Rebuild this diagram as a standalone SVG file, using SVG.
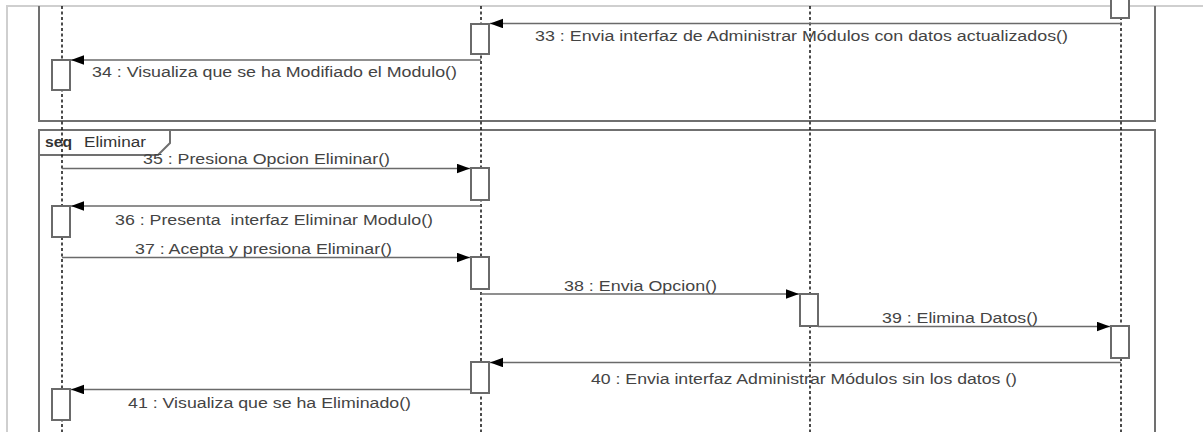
<svg xmlns="http://www.w3.org/2000/svg" width="1203" height="432" viewBox="0 0 1203 432">
<defs>
<style>
.page{stroke:#cfcfcf;stroke-width:2;fill:none}
.frag{stroke:#707070;stroke-width:2;fill:none}
.life{stroke:#111;stroke-width:1.5;stroke-dasharray:3 2.5;fill:none}
.act{stroke:#6a6a6a;stroke-width:2;fill:#fff}
.msg{stroke:#6a6a6a;stroke-width:1.6;fill:none;marker-end:url(#ah)}
.lbl{font-family:"Liberation Sans",Arial,sans-serif;font-size:14px;fill:#444}
.seq{font-family:"Liberation Sans",Arial,sans-serif;font-size:14px;fill:#333}
</style>
<marker id="ah" markerUnits="userSpaceOnUse" markerWidth="14" markerHeight="10" refX="13" refY="4.75" orient="auto">
<path d="M0,0 L13,4.75 L0,9.5 z" fill="#000"/>
</marker>
</defs>
<rect width="1203" height="432" fill="#fff"/>
<g id="page">
<path class="page" d="M7,432 V6 H1203"/>
</g>
<g id="frag-prev">
<path class="frag" d="M39,6 V121 H1155 V6"/>
</g>
<g id="frag-eliminar">
<path class="frag" d="M39,440 V130 H1155 V440"/>
<path class="frag" d="M39,155 H158 L170,143 V130"/>
<text class="seq" x="45" y="147" font-weight="bold" textLength="27" lengthAdjust="spacingAndGlyphs">seq</text>
<text class="seq" x="84" y="147" textLength="62" lengthAdjust="spacingAndGlyphs">Eliminar</text>
</g>
<g id="lifeline-1">
<line class="life" x1="62" y1="6" x2="62" y2="432"/>
<rect class="act" x="52" y="60" width="18" height="30"/>
<rect class="act" x="52" y="206" width="18" height="31"/>
<rect class="act" x="52" y="389" width="18" height="31"/>
</g>
<g id="lifeline-2">
<line class="life" x1="481" y1="6" x2="481" y2="432"/>
<rect class="act" x="471" y="24" width="18" height="30"/>
<rect class="act" x="471" y="168" width="18" height="32"/>
<rect class="act" x="471" y="257" width="18" height="32"/>
<rect class="act" x="471" y="362" width="18" height="31"/>
</g>
<g id="lifeline-3">
<line class="life" x1="810" y1="6" x2="810" y2="432"/>
<rect class="act" x="800" y="294" width="18" height="32"/>
</g>
<g id="lifeline-4">
<line class="life" x1="1121" y1="6" x2="1121" y2="432"/>
<rect class="act" x="1111" y="-10" width="18" height="28"/>
<rect class="act" x="1111" y="326" width="18" height="32"/>
</g>
<g id="connectors">
<line class="msg" x1="1121" y1="23.5" x2="490" y2="23.5"/>
<text class="lbl" x="535" y="41" textLength="533" lengthAdjust="spacingAndGlyphs">33 : Envia interfaz de Administrar Módulos con datos actualizados()</text>
<line class="msg" x1="481" y1="60" x2="71" y2="60"/>
<text class="lbl" x="92" y="77" textLength="365" lengthAdjust="spacingAndGlyphs">34 : Visualiza que se ha Modifiado el Modulo()</text>
<line class="msg" x1="62" y1="168.5" x2="470" y2="168.5"/>
<text class="lbl" x="143" y="164" textLength="247" lengthAdjust="spacingAndGlyphs">35 : Presiona Opcion Eliminar()</text>
<line class="msg" x1="481" y1="206" x2="71" y2="206"/>
<text class="lbl" x="115" y="225" textLength="318" lengthAdjust="spacingAndGlyphs" xml:space="preserve">36 : Presenta  interfaz Eliminar Modulo()</text>
<line class="msg" x1="62" y1="257.5" x2="470" y2="257.5"/>
<text class="lbl" x="135" y="254" textLength="257" lengthAdjust="spacingAndGlyphs">37 : Acepta y presiona Eliminar()</text>
<line class="msg" x1="481" y1="294" x2="799" y2="294"/>
<text class="lbl" x="564" y="290.5" textLength="153" lengthAdjust="spacingAndGlyphs">38 : Envia Opcion()</text>
<line class="msg" x1="818" y1="326.5" x2="1110" y2="326.5"/>
<text class="lbl" x="882" y="323" textLength="156" lengthAdjust="spacingAndGlyphs">39 : Elimina Datos()</text>
<line class="msg" x1="1121" y1="362.5" x2="490" y2="362.5"/>
<text class="lbl" x="591" y="384" textLength="426" lengthAdjust="spacingAndGlyphs">40 : Envia interfaz Administrar Módulos sin los datos ()</text>
<line class="msg" x1="471" y1="389.5" x2="71" y2="389.5"/>
<text class="lbl" x="128" y="408" textLength="283" lengthAdjust="spacingAndGlyphs">41 : Visualiza que se ha Eliminado()</text>
</g>
</svg>
